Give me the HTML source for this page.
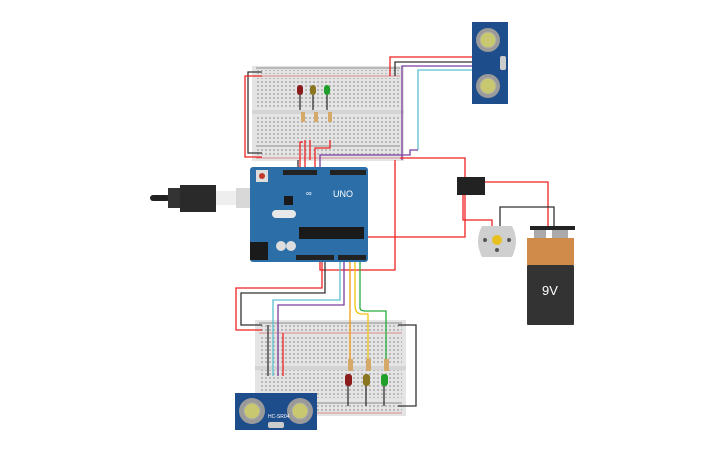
<!DOCTYPE html>
<html><head><style>
html,body{margin:0;padding:0;background:#fff;}
svg{display:block;font-family:"Liberation Sans",sans-serif;}
</style></head><body>
<svg width="725" height="453" viewBox="0 0 725 453" xmlns="http://www.w3.org/2000/svg">
<defs>
<pattern id="holes" x="0" y="0" width="4" height="4" patternUnits="userSpaceOnUse">
<rect x="1" y="1" width="2" height="2" fill="#b9b9b9"/>
</pattern>
</defs>

<!-- top breadboard -->
<rect x="252" y="66" width="152" height="95" fill="#e4e4e4"/>
<rect x="256" y="70" width="144" height="4" fill="url(#holes)"/>
<rect x="256" y="78" width="144" height="30" fill="url(#holes)"/>
<rect x="256" y="116" width="144" height="28" fill="url(#holes)"/>
<rect x="256" y="148" width="144" height="8" fill="url(#holes)"/>
<line x1="256" y1="68" x2="400" y2="68" stroke="#333" stroke-width="0.6"/>
<line x1="256" y1="76" x2="400" y2="76" stroke="#c33" stroke-width="0.6"/>
<line x1="256" y1="146" x2="400" y2="146" stroke="#333" stroke-width="0.6"/>
<line x1="256" y1="158" x2="400" y2="158" stroke="#c33" stroke-width="0.6"/>
<rect x="252" y="110" width="152" height="4" fill="#d4d4d4"/>

<!-- bottom breadboard -->
<rect x="255" y="320" width="151" height="96" fill="#e4e4e4"/>
<rect x="259" y="324" width="143" height="8" fill="url(#holes)"/>
<rect x="259" y="336" width="143" height="28" fill="url(#holes)"/>
<rect x="259" y="370" width="143" height="28" fill="url(#holes)"/>
<rect x="259" y="404" width="143" height="8" fill="url(#holes)"/>
<line x1="259" y1="323" x2="402" y2="323" stroke="#333" stroke-width="0.6"/>
<line x1="259" y1="333" x2="402" y2="333" stroke="#c33" stroke-width="0.6"/>
<line x1="259" y1="403" x2="402" y2="403" stroke="#333" stroke-width="0.6"/>
<line x1="259" y1="413" x2="402" y2="413" stroke="#c33" stroke-width="0.6"/>
<rect x="255" y="366" width="151" height="4" fill="#d4d4d4"/>

<!-- wires -->
<g fill="none" stroke-width="1.3">
<path d="M262 72 H248 V153 H262" stroke="#333"/>
<path d="M262 76 H245 V157 H262" stroke="#e22"/>
<path d="M390 76 V57 H472" stroke="#e22"/>
<path d="M395 76 V62 H472" stroke="#333"/>
<path d="M318 160 V63 H472" stroke="#7a3fa0" opacity="0"/>
<path d="M402 160 V66 H472" stroke="#7a3fa0"/>
<path d="M418 150 V70 H472" stroke="#5bc0d0"/>
<path d="M310 160 V140" stroke="#e22"/><path d="M305 168 V140" stroke="#e22"/>
<path d="M300 168 V142 H303" stroke="#e22"/><path d="M315 168 V148 H330 V140" stroke="#e22"/>
<path d="M320 168 V155 H410 V150 H418" stroke="#7a3fa0"/>
<path d="M298 168 V160" stroke="#333"/>
<path d="M395 160 V270 H320 V262" stroke="#e22"/>
<path d="M368 237 H465 V215 V158 H400" stroke="#e22"/>
<path d="M463 195 V220 H492 V226" stroke="#e22"/>
<path d="M485 182 H548 V228" stroke="#e22"/>
<path d="M500 228 V207 H554 V228" stroke="#333"/>
<path d="M325 262 V293 H241 V325 H262" stroke="#333"/>
<path d="M322 262 V288 H236 V330 H262" stroke="#e22"/>
<path d="M344 180 V305 H278 V376" stroke="#7a3fa0"/>
<path d="M340 255 V300 H273 V376" stroke="#5bc0d0"/>
<path d="M268 325 V376" stroke="#333"/>
<path d="M283 333 V376" stroke="#e22"/>
<path d="M350 172 V360" stroke="#f39c12"/>
<path d="M355 172 V305 Q355 314 362 314 H368 V360" stroke="#f1c40f"/>
<path d="M360 172 V308 Q360 311 366 311 H386 V360" stroke="#27ae3f"/>
<path d="M365 172 V255" stroke="#27ae3f"/>
<path d="M398 325 H416 V406 H398" stroke="#333"/>
<path d="M348 385 V406 M366 385 V406 M384 385 V406" stroke="#333"/>
<path d="M300 95 V110 M313 95 V110 M327 95 V110" stroke="#333"/>
</g>

<!-- top LEDs + resistors -->
<g>
<rect x="297" y="85" width="6" height="10" rx="3" fill="#8b1a1a"/>
<rect x="310" y="85" width="6" height="10" rx="3" fill="#8a7520"/>
<rect x="324" y="85" width="6" height="10" rx="3" fill="#1f9e2a"/>
<rect x="301" y="112" width="4" height="10" fill="#d4a96a"/>
<rect x="314" y="112" width="4" height="10" fill="#d4a96a"/>
<rect x="328" y="112" width="4" height="10" fill="#d4a96a"/>
</g>
<!-- bottom LEDs + resistors -->
<g>
<rect x="345" y="374" width="7" height="12" rx="3" fill="#8b1a1a"/>
<rect x="363" y="374" width="7" height="12" rx="3" fill="#8a7520"/>
<rect x="381" y="374" width="7" height="12" rx="3" fill="#1f9e2a"/>
<rect x="348" y="359" width="5" height="12" fill="#d4a96a"/>
<rect x="366" y="359" width="5" height="12" fill="#d4a96a"/>
<rect x="384" y="359" width="5" height="12" fill="#d4a96a"/>
</g>

<!-- USB cable -->
<rect x="150" y="195" width="20" height="6" rx="3" fill="#222"/>
<rect x="168" y="188" width="12" height="20" fill="#333"/>
<rect x="180" y="185" width="36" height="27" fill="#2a2a2a"/>
<rect x="216" y="191" width="20" height="14" fill="#eee"/>
<rect x="236" y="188" width="32" height="20" fill="#d8d8d8"/>

<!-- Arduino -->
<rect x="250" y="167" width="118" height="95" rx="3" fill="#2b6ea8"/>
<rect x="283" y="170" width="34" height="5" fill="#222"/>
<rect x="330" y="170" width="36" height="5" fill="#222"/>
<rect x="296" y="255" width="38" height="5" fill="#222"/>
<rect x="338" y="255" width="28" height="5" fill="#222"/>
<rect x="256" y="170" width="12" height="12" fill="#ddd"/>
<circle cx="262" cy="176" r="3" fill="#c0392b"/>
<rect x="272" y="210" width="24" height="8" rx="4" fill="#e8e8e8"/>
<rect x="284" y="196" width="9" height="9" fill="#1a1a1a"/>
<rect x="299" y="227" width="65" height="12" fill="#1a1a1a"/>
<rect x="250" y="242" width="18" height="18" fill="#1a1a1a"/>
<circle cx="281" cy="246" r="5" fill="#ddd"/><circle cx="291" cy="246" r="5" fill="#ddd"/>
<text x="333" y="197" font-size="9" fill="#fff">UNO</text>
<text x="306" y="196" font-size="8" fill="#fff">∞</text>

<!-- top sensor (vertical) -->
<rect x="472" y="22" width="36" height="82" fill="#1e4d8c"/>
<circle cx="488" cy="40" r="12" fill="#9a9a9a"/><circle cx="488" cy="40" r="8" fill="#c8c870" stroke="#aaa"/>
<circle cx="488" cy="86" r="12" fill="#9a9a9a"/><circle cx="488" cy="86" r="8" fill="#c8c870" stroke="#aaa"/>
<rect x="500" y="56" width="6" height="14" rx="2" fill="#ccc"/>

<!-- bottom sensor -->
<rect x="235" y="393" width="82" height="37" fill="#1e4d8c"/>
<circle cx="252" cy="411" r="13" fill="#9a9a9a"/><circle cx="252" cy="411" r="8" fill="#c8c870" stroke="#aaa"/>
<circle cx="300" cy="411" r="13" fill="#9a9a9a"/><circle cx="300" cy="411" r="8" fill="#c8c870" stroke="#aaa"/>
<rect x="268" y="422" width="16" height="6" rx="2" fill="#ccc"/>
<text x="268" y="418" font-size="5" fill="#fff">HC-SR04</text>

<!-- relay -->
<rect x="457" y="177" width="28" height="18" fill="#222"/>

<!-- motor -->
<path d="M482 226 H512 Q520 241 512 257 H482 Q474 241 482 226 Z" fill="#cfcfcf"/>
<circle cx="497" cy="240" r="5" fill="#e8c020"/>
<circle cx="485" cy="240" r="2" fill="#555"/><circle cx="509" cy="240" r="2" fill="#555"/><circle cx="497" cy="250" r="2" fill="#555"/>

<!-- battery -->
<rect x="530" y="226" width="45" height="4" fill="#222"/>
<rect x="534" y="230" width="12" height="8" fill="#aaa"/><rect x="552" y="230" width="16" height="8" fill="#aaa"/>
<rect x="527" y="238" width="47" height="27" fill="#d08a4a"/>
<rect x="527" y="265" width="47" height="60" rx="1" fill="#333"/>
<text x="550" y="295" font-size="13" fill="#fff" text-anchor="middle">9V</text>
</svg>
</body></html>
